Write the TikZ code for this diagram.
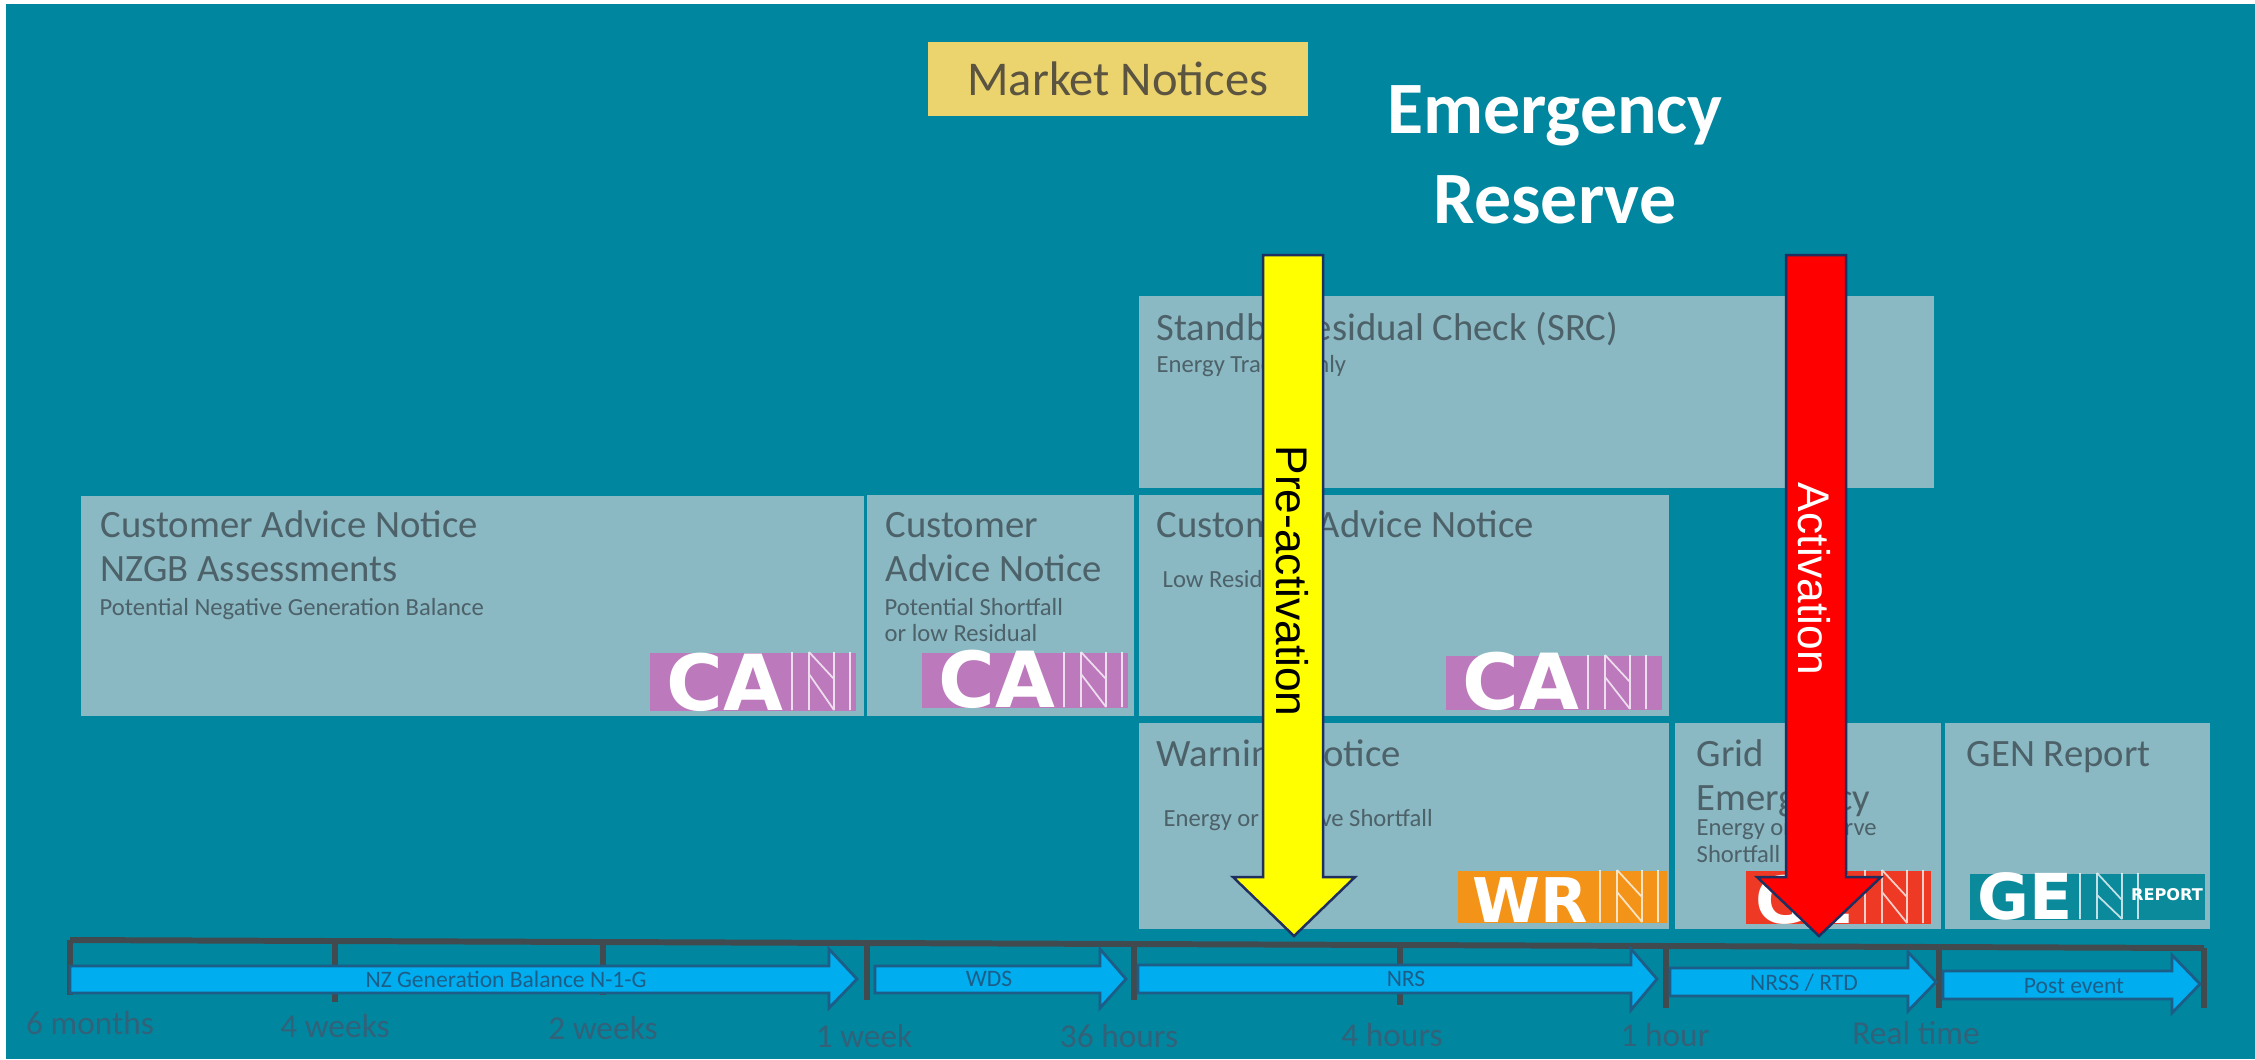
\documentclass[tikz,border=0pt]{standalone}
\usepackage{fontspec}
\setmainfont{Carlito}
\newfontfamily\arrowfont{Liberation Sans}
\newfontfamily\tilefont{DejaVu Sans}
\usetikzlibrary{positioning}
\definecolor{reservebg}{HTML}{00879F}
\definecolor{noticebox}{HTML}{8AB8C3}
\definecolor{noticetext}{HTML}{4D6169}
\definecolor{markettext}{HTML}{5A5440}
\definecolor{timetext}{HTML}{32627A}
\definecolor{timeline}{HTML}{414A4E}
\definecolor{marketbox}{HTML}{EBD36E}
\definecolor{timeblue}{HTML}{00ADEF}
\definecolor{timeedge}{HTML}{1C5E88}
\definecolor{bigedge}{HTML}{1F2F5F}
\definecolor{preyellow}{HTML}{FFFF00}
\definecolor{actred}{HTML}{FF0000}
\definecolor{canpink}{HTML}{BC79BC}
\definecolor{wrnorange}{HTML}{F39419}
\definecolor{genred}{HTML}{EE3A24}
\definecolor{genteal}{HTML}{0B8A9C}
\newcommand{\nmark}[3]{% x, top, bottom of the thin letter
  \draw[white, opacity=0.75, line width=0.5pt] (#1,#2) -- (#1,#3) (#1+17,#2) -- (#1+17,#3) (#1+42,#2) -- (#1+42,#3) (#1+58,#2) -- (#1+58,#3)
    (#1+17,#2) -- (#1+42,#2+27) (#1+17,#2+22) -- (#1+42,#3);}
\begin{document}
\begin{tikzpicture}[%
    x=0.01cm,
    y=-0.01cm,
    notice/.style={fill=noticebox, inner sep=0pt, anchor=north west},
    head/.style={text=noticetext, anchor=base west, inner sep=0pt, font=\fontsize{11}{13}\selectfont},
    sub/.style={text=noticetext, anchor=base west, inner sep=0pt, font=\fontsize{7}{8}\selectfont},
    time/.style={text=timetext, anchor=base, inner sep=0pt, font=\fontsize{9.5}{11}\selectfont},
    barlabel/.style={text=timeedge, inner sep=0pt, font=\fontsize{6.7}{8}\selectfont},
    tile/.style={inner sep=0pt, anchor=north west},
    tileletters/.style={text=white, anchor=base west, inner sep=0pt, font=\tilefont\fontsize{22}{22}\selectfont\bfseries},
    timebar/.style={fill=timeblue, draw=timeedge, line width=0.8pt, line join=miter},
    bigarrow/.style={draw=bigedge, line width=0.7pt, line join=miter},
    tick/.style={draw=timeline, line width=1.7pt}
  ]
    \useasboundingbox (0,0) rectangle (2255,1059);
    \fill[white] (0,0) rectangle (2255,1059);
    \fill[reservebg] (6,4) rectangle (2255,1059);

    % top titles
    \node[fill=marketbox, text=markettext, minimum width=3.8cm, minimum height=0.74cm, inner sep=0pt,
      anchor=north west, font=\fontsize{13.8}{15}\selectfont] (market) at (927,41) {Market Notices};
    \node[text=white, align=center, anchor=center, inner sep=0pt,
      font=\fontsize{21}{25.6}\selectfont\bfseries] (reserve) at (1555,155) {Emergency\\Reserve};

    % notice blocks
    \node[notice, minimum width=7.83cm, minimum height=2.2cm] (nzgb) at (80,495) {};
    \node[notice, minimum width=2.67cm, minimum height=2.21cm] (shortfall) at (866,494) {};
    \node[notice, minimum width=5.3cm, minimum height=2.21cm] (lowres) at (1138,494) {};
    \node[notice, minimum width=7.95cm, minimum height=1.92cm] (src) at (1138,295) {};
    \node[notice, minimum width=5.3cm, minimum height=2.06cm] (warning) at (1138,722) {};
    \node[notice, minimum width=2.66cm, minimum height=2.06cm] (grid) at (1674,722) {};
    \node[notice, minimum width=2.65cm, minimum height=2.06cm] (genrep) at (1944,722) {};

    \node[head] (nzgbA) at (100,537) {Customer Advice Notice};
    \node[head] (nzgbB) at (100,581) {NZGB Assessments};
    \node[sub] (nzgbC) at (99,615) {Potential Negative Generation Balance};
    \node[head] (shortA) at (885,537) {Customer};
    \node[head] (shortB) at (885,581) {Advice Notice};
    \node[sub] (shortC) at (884,615) {Potential Shortfall};
    \node[sub] (shortD) at (884,641) {or low Residual};
    \node[head] (lowA) at (1156,537) {Customer Advice Notice};
    \node[sub] (lowB) at (1162,587) {Low Residual};
    \node[head] (srcA) at (1156,340) {Standby Residual Check (SRC)};
    \node[sub] (srcB) at (1156,372) {Energy Trader Only};
    \node[head] (warnA) at (1156,766) {Warning Notice};
    \node[sub] (warnB) at (1163,826) {Energy or Reserve Shortfall};
    \node[head] (gridA) at (1696,766) {Grid};
    \node[head] (gridB) at (1696,810) {Emergency};
    \node[sub] (gridC) at (1696,835) {Energy or Reserve};
    \node[sub] (gridD) at (1696,862) {Shortfall};
    \node[head] (genA) at (1966,766) {GEN Report};

    % logos
    \node[tile, fill=canpink, minimum width=2.06cm, minimum height=0.58cm] (canA) at (649,652) {};
    \node[tileletters] (canAt) at (666,710) {CA};
    \nmark{792}{652}{710}
    \node[tile, fill=canpink, minimum width=2.06cm, minimum height=0.55cm] (canB) at (921,652) {};
    \node[tileletters] (canBt) at (938,707) {CA};
    \nmark{1064}{652}{707}
    \node[tile, fill=canpink, minimum width=2.16cm, minimum height=0.54cm] (canC) at (1445,655) {};
    \node[tileletters] (canCt) at (1462,709) {CA};
    \nmark{1588}{655}{709}
    \node[tile, fill=wrnorange, minimum width=2.09cm, minimum height=0.52cm] (wrn) at (1457,870) {};
    \node[tileletters, font=\tilefont\fontsize{17.5}{18}\selectfont\bfseries] (wrnt) at (1472,922) {WR};
    \nmark{1600}{870}{922}
    \node[tile, fill=genred, minimum width=1.85cm, minimum height=0.53cm] (gen) at (1745,870) {};
    \node[tileletters, font=\tilefont\fontsize{18.5}{19}\selectfont\bfseries] (gent) at (1755,923) {GE};
    \nmark{1865}{870}{923}
    \node[tile, fill=genteal, minimum width=2.35cm, minimum height=0.46cm] (genr) at (1969,873) {};
    \node[tileletters, font=\tilefont\fontsize{18}{18}\selectfont\bfseries] (genrt) at (1977,919) {GE};
    \nmark{2080}{873}{919}
    \node[white, inner sep=0pt, font=\tilefont\fontsize{4.6}{5}\selectfont\bfseries] (genrw) at (2167,895) {REPORT};

    % time line
    \draw[tick] (70,940) -- (2204,948);
    \draw[tick] (70,940) -- (70,995)
                (335,941) -- (335,1002)
                (603,942) -- (603,995)
                (867,943) -- (867,1000)
                (1134,944) -- (1134,1000)
                (1400,945) -- (1400,1005)
                (1666,946) -- (1666,1008)
                (1939,947) -- (1939,1008)
                (2204,948) -- (2204,1008);

    \draw[timebar] (70,966) -- (829,966) -- (829,949) -- (857,979) -- (829,1008) -- (829,993) -- (70,993) -- cycle;
    \draw[timebar] (875,966) -- (1100,966) -- (1100,949) -- (1126,979) -- (1100,1008) -- (1100,993) -- (875,993) -- cycle;
    \draw[timebar] (1138,965) -- (1631,965) -- (1631,949) -- (1657,979) -- (1631,1010) -- (1631,993) -- (1138,993) -- cycle;
    \draw[timebar] (1670,968) -- (1908,968) -- (1908,952) -- (1936,982) -- (1908,1011) -- (1908,996) -- (1670,996) -- cycle;
    \draw[timebar] (1943,971) -- (2172,971) -- (2172,955) -- (2200,984) -- (2172,1013) -- (2172,999) -- (1943,999) -- cycle;

    \node[barlabel] (barA) at (506,979) {NZ Generation Balance N-1-G};
    \node[barlabel] (barB) at (989,979) {WDS};
    \node[barlabel] (barC) at (1406,979) {NRS};
    \node[barlabel] (barD) at (1804,983) {NRSS / RTD};
    \node[barlabel] (barE) at (2074,986) {Post event};

    \node[time] (tA) at (90,1034) {6 months};
    \node[time] (tB) at (335,1037) {4 weeks};
    \node[time] (tC) at (603,1039) {2 weeks};
    \node[time] (tD) at (864,1047) {1 week};
    \node[time] (tE) at (1119,1047) {36 hours};
    \node[time] (tF) at (1392,1046) {4 hours};
    \node[time] (tG) at (1665,1046) {1 hour};
    \node[time] (tH) at (1916,1044) {Real time};

    % reserve arrows
    \draw[bigarrow, fill=preyellow] (1263,255) -- (1323,255) -- (1323,877) -- (1355,877) -- (1294,936) -- (1233,877) -- (1263,877) -- cycle;
    \draw[bigarrow, fill=actred] (1786,255) -- (1846,255) -- (1846,877) -- (1881,877) -- (1819,936) -- (1757,877) -- (1786,877) -- cycle;
    \node[rotate=-90, inner sep=0pt, font=\arrowfont\fontsize{12.6}{14}\selectfont] (pre) at (1292,581) {Pre-activation};
    \node[rotate=-90, inner sep=0pt, text=white, font=\arrowfont\fontsize{12.6}{14}\selectfont] (act) at (1814,579) {Activation};
  \end{tikzpicture}
\end{document}
